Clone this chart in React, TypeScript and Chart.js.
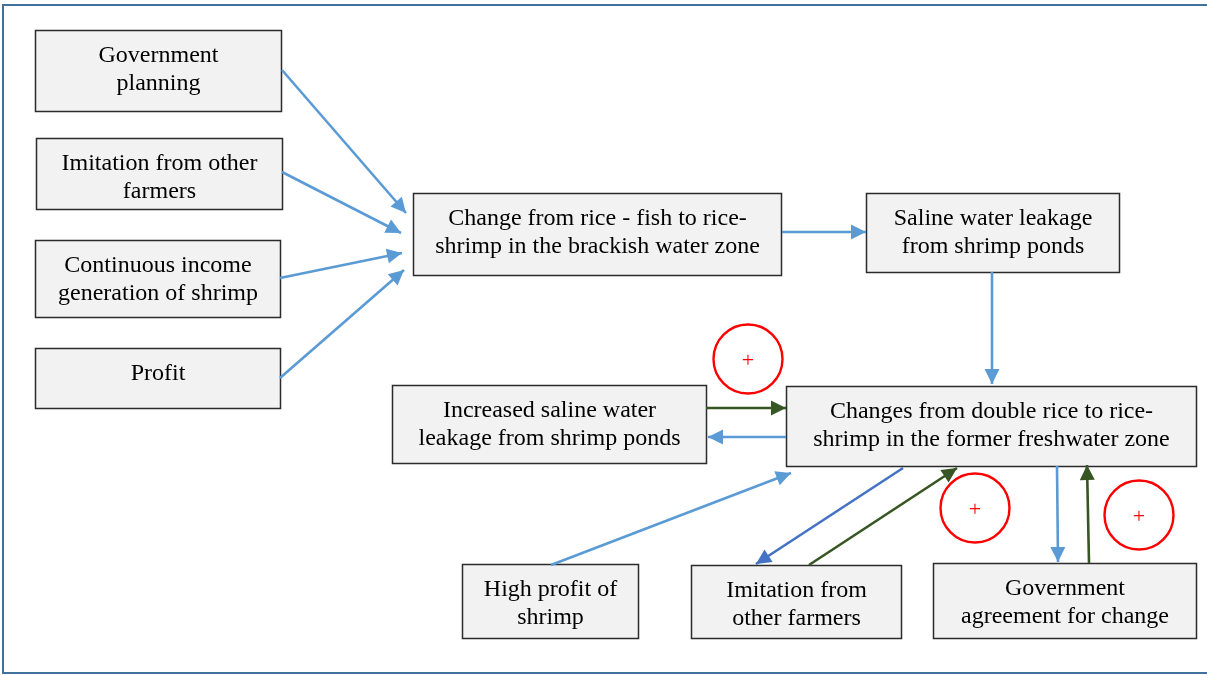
import React, { useEffect, useRef } from "react";
import { Chart, registerables } from "chart.js";

Chart.register(...registerables);

// ---- Diagram data (diagram units = page pixels) ----
const nodeLabels: string[][] = [
  ["Government", "planning"],
  ["Imitation from other", "farmers"],
  ["Continuous income", "generation of shrimp"],
  ["Profit"],
  ["Change from rice - fish to rice-", "shrimp in the brackish water zone"],
  ["Saline water leakage", "from shrimp ponds"],
  ["Increased saline water", "leakage from shrimp ponds"],
  ["Changes from double rice to rice-", "shrimp in the former freshwater zone"],
  ["High profit of", "shrimp"],
  ["Imitation from", "other farmers"],
  ["Government", "agreement for change"],
];
const nodeLeft = [35, 36, 35, 35, 413, 866, 392, 786, 462, 691, 933];
const nodeTop = [30, 138, 240, 348, 193, 193, 385, 386, 564, 565, 563];
const nodeRight = [281, 282, 280, 280, 781, 1119, 706, 1196, 638, 901, 1196];
const nodeBottom = [111, 209, 317, 408, 275, 272, 463, 466, 638, 638, 638];

// arrows: start -> tip
const arrowFromX = [282, 282, 280, 280, 782, 992, 786, 706, 551, 903, 809, 1057, 1089];
const arrowFromY = [70, 172, 278, 378, 232, 272, 437, 408, 565, 468, 565, 466, 563];
const arrowToX = [406, 401, 402, 404, 866, 992, 708, 786, 791, 756, 957, 1058, 1087];
const arrowToY = [213, 233, 253, 270, 232, 384, 437, 408, 473, 564, 468, 562, 465];
// 0 = light blue, 1 = blue, 2 = dark green
const arrowKind = [0, 0, 0, 0, 0, 0, 0, 2, 0, 1, 2, 0, 2];

// reinforcing loop markers
const loopX = [748, 975, 1139];
const loopY = [359, 508, 515];
const loopSign = ["+", "+", "+"];

const arrowColors = ["#5B9BD5", "#4472C4", "#375623"];

const W = 1207;
const H = 675;

export default function App() {
  const ref = useRef<HTMLCanvasElement | null>(null);

  useEffect(() => {
    document.body.style.margin = "0";
    const canvas = ref.current;
    if (!canvas) return;

    const diagramPlugin = {
      id: "diagram",
      beforeDraw(chart: any) {
        const ctx = chart.ctx;
        ctx.save();
        ctx.fillStyle = "#ffffff";
        ctx.fillRect(0, 0, chart.width, chart.height);
        // frame
        ctx.strokeStyle = "#41719C";
        ctx.lineWidth = 2;
        ctx.strokeRect(3, 5, 1215, 668);
        ctx.restore();
      },
      beforeDatasetsDraw(chart: any) {
        const ctx = chart.ctx;
        const xs = chart.scales.x;
        const ys = chart.scales.y;
        ctx.save();
        for (let i = 0; i < nodeLabels.length; i++) {
          const l = Math.round(xs.getPixelForValue(nodeLeft[i])) + 0.5;
          const r = Math.round(xs.getPixelForValue(nodeRight[i])) + 0.5;
          const t = Math.round(ys.getPixelForValue(nodeTop[i])) + 0.5;
          const b = Math.round(ys.getPixelForValue(nodeBottom[i])) + 0.5;
          ctx.fillStyle = "#F2F2F2";
          ctx.fillRect(l, t, r - l, b - t);
          ctx.strokeStyle = "#2b2b2b";
          ctx.lineWidth = 1.5;
          ctx.strokeRect(l, t, r - l, b - t);
          ctx.fillStyle = "#000000";
          ctx.font = "24px 'Liberation Serif', 'Times New Roman', serif";
          ctx.textAlign = "center";
          ctx.textBaseline = "middle";
          const cx = (l + r) / 2;
          nodeLabels[i].forEach((line, k) => {
            ctx.fillText(line, cx, t + 25 + k * 28);
          });
        }
        ctx.restore();
      },
      afterDatasetsDraw(chart: any) {
        const ctx = chart.ctx;
        ctx.save();
        chart.data.datasets.forEach((ds: any, di: number) => {
          if (ds.isArrow) {
            const meta = chart.getDatasetMeta(di);
            const p0 = meta.data[0];
            const p1 = meta.data[1];
            const ang = Math.atan2(p1.y - p0.y, p1.x - p0.x);
            const len = 15;
            const hw = 7.5;
            const bx = p1.x - len * Math.cos(ang);
            const by = p1.y - len * Math.sin(ang);
            ctx.fillStyle = ds.borderColor;
            ctx.beginPath();
            ctx.moveTo(p1.x, p1.y);
            ctx.lineTo(bx + hw * Math.sin(ang), by - hw * Math.cos(ang));
            ctx.lineTo(bx - hw * Math.sin(ang), by + hw * Math.cos(ang));
            ctx.closePath();
            ctx.fill();
          }
          if (ds.isLoop) {
            const meta = chart.getDatasetMeta(di);
            ctx.fillStyle = "#FF0000";
            ctx.font = "22px 'Liberation Serif', 'Times New Roman', serif";
            ctx.textAlign = "center";
            ctx.textBaseline = "middle";
            meta.data.forEach((pt: any, k: number) => {
              ctx.fillText(loopSign[k], pt.x, pt.y + 2);
            });
          }
        });
        ctx.restore();
      },
    };

    const datasets: any[] = arrowFromX.map((_, i) => ({
      type: "line",
      isArrow: true,
      data: [
        { x: arrowFromX[i], y: arrowFromY[i] },
        { x: arrowToX[i], y: arrowToY[i] },
      ],
      borderColor: arrowColors[arrowKind[i]],
      borderWidth: 2.6,
      pointRadius: 0,
      showLine: true,
      fill: false,
      tension: 0,
    }));
    datasets.push({
      type: "scatter",
      isLoop: true,
      data: loopX.map((x, i) => ({ x, y: loopY[i] })),
      pointRadius: 34.5,
      pointBorderWidth: 2.4,
      pointBorderColor: "#FF0000",
      pointBackgroundColor: "rgba(0,0,0,0)",
      showLine: false,
    });

    const chart = new Chart(canvas, {
      type: "scatter",
      data: { datasets },
      options: {
        animation: false,
        responsive: false,
        events: [],
        layout: { padding: 0, autoPadding: false },
        plugins: { legend: { display: false }, tooltip: { enabled: false } },
        scales: {
          x: { type: "linear", min: 0, max: W, display: false },
          y: { type: "linear", min: 0, max: H, reverse: true, display: false },
        },
      },
      plugins: [diagramPlugin],
    } as any);

    return () => chart.destroy();
  }, []);

  return (
    <canvas
      ref={ref}
      width={W}
      height={H}
      style={{ display: "block", width: W, height: H }}
    />
  );
}
